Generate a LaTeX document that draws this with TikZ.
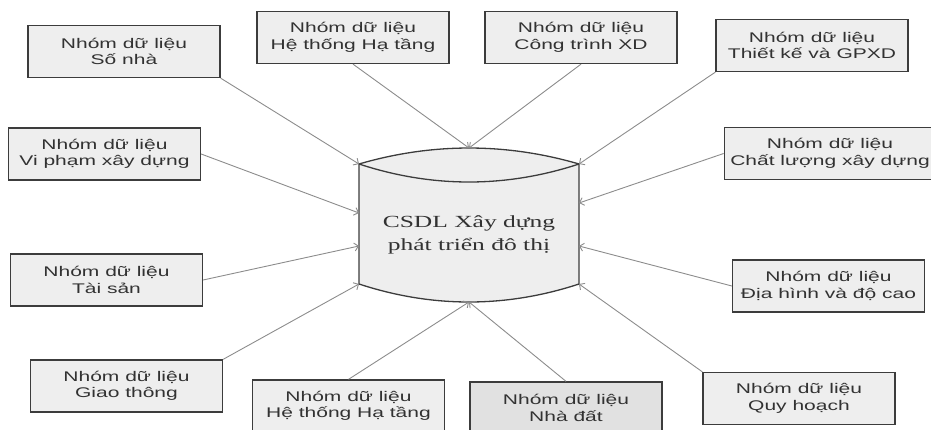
\documentclass[tikz,border=0pt]{standalone}
\usepackage{fontspec}
\newfontfamily\groupfont[FakeStretch=1.5]{Liberation Sans}
\newfontfamily\dbfont[FakeStretch=1.5]{Liberation Serif}
\usetikzlibrary{arrows.meta}
\definecolor{boxgray}{RGB}{238,238,238}
\definecolor{boxdark}{RGB}{225,225,225}
\definecolor{edgegray}{RGB}{60,60,60}
\definecolor{linkgray}{RGB}{140,140,140}
\definecolor{textgray}{RGB}{50,50,50}
\tikzset{>={Straight Barb[length=4pt,width=8pt]}, % open barb tips
  group/.style={draw=edgegray, line width=1.3pt, fill=boxgray,
    minimum width=192pt, minimum height=52pt, inner xsep=6pt,
    align=center, text=textgray,
    font={\groupfont\fontsize{14}{16.5}\selectfont}},
  link/.style={->, draw=linkgray, line width=0.9pt},
  db/.style={draw=edgegray, line width=1.3pt},
  dbtext/.style={align=center, text=textgray,
    font={\dbfont\fontsize{17}{23}\selectfont}},
  diagram/.style={x=1pt, y=-1pt},
}

\begin{document}
\begin{tikzpicture}[diagram]
    \useasboundingbox (0,0) rectangle (931,430);

    % database cylinder
    \coordinate (dbtl) at (359,164);
    \coordinate (dbtr) at (579,164);
    \coordinate (dbbl) at (359,284);
    \coordinate (dbbr) at (579,284);
    \coordinate (dbt) at (469,148);
    \coordinate (dbb) at (469,302);
    \coordinate (dbl1) at (359,213);
    \coordinate (dbl2) at (359,246);
    \coordinate (dbr1) at (579,203);
    \coordinate (dbr2) at (579,246);
    \draw [db, fill=boxgray] (dbtl) .. controls (432,142.7) and (506,142.7) .. (dbtr)
    -- (dbbr) .. controls (506,308) and (432,308) .. (dbbl) -- cycle;
    \draw [db] (dbtl) .. controls (432,188) and (506,188) .. (dbtr);
    \node [dbtext] (db) at (469,234.5) {CSDL Xây dựng\\phát triển đô thị};

    % data groups
    \node [group] (sonha) at (124,51.5) {Nhóm dữ liệu\\Số nhà};
    \node [group] (vipham) at (104.5,154) {Nhóm dữ liệu\\Vi phạm xây dựng};
    \node [group] (taisan) at (106.5,280) {Nhóm dữ liệu\\Tài sản};
    \node [group] (giaothong) at (126.5,386) {Nhóm dữ liệu\\Giao thông};
    \node [group] (hatangb) at (348.5,406) {Nhóm dữ liệu\\Hệ thống Hạ tầng};
    \node [group, fill=boxdark] (nhadat) at (566,408) {Nhóm dữ liệu\\Nhà đất};
    \node [group] (quyhoach) at (799,398.5) {Nhóm dữ liệu\\Quy hoạch};
    \node [group] (diahinh) at (828.5,286) {Nhóm dữ liệu\\Địa hình và độ cao};
    \node [group] (chatluong) at (830,153.5) {Nhóm dữ liệu\\Chất lượng xây dựng};
    \node [group] (thietke) at (812,45.5) {Nhóm dữ liệu\\Thiết kế và GPXD};
    \node [group] (congtrinh) at (581,37.5) {Nhóm dữ liệu\\Công trình XD};
    \node [group] (hatangt) at (353,37.5) {Nhóm dữ liệu\\Hệ thống Hạ tầng};

    % links into the database
    \draw [link] (sonha.south east) -- (dbtl);
    \draw [link] (vipham.east) -- (dbl1);
    \draw [link] (taisan.east) -- (dbl2);
    \draw [link] (giaothong.north east) -- (dbbl);
    \draw [link] (hatangb.north) -- (dbb);
    \draw [link] (nhadat.north) -- (dbb);
    \draw [link] (quyhoach.north west) -- (dbbr);
    \draw [link] (diahinh.west) -- (dbr2);
    \draw [link] (chatluong.west) -- (dbr1);
    \draw [link] (thietke.south west) -- (dbtr);
    \draw [link] (congtrinh.south) -- (dbt);
    \draw [link] (hatangt.south) -- (dbt);

\end{tikzpicture}
\end{document}
